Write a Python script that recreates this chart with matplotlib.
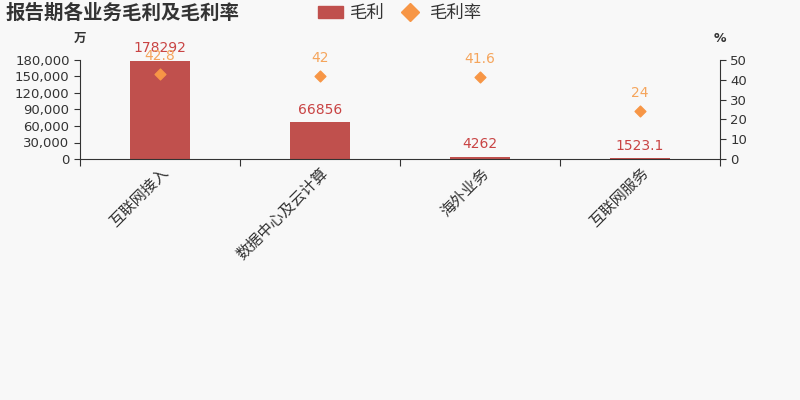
import matplotlib.pyplot as plt
from matplotlib.ticker import FuncFormatter
from matplotlib.lines import Line2D
from matplotlib.patches import Patch

plt.rcParams['font.family'] = ['Noto Sans CJK SC', 'DejaVu Sans']

categories = ['互联网接入', '数据中心及云计算', '海外业务', '互联网服务']
profit = [178292, 66856, 4262, 1523.1]
profit_labels = ['178292', '66856', '4262', '1523.1']
margin = [42.8, 42, 41.6, 24]
margin_labels = ['42.8', '42', '41.6', '24']

BAR = '#c0504d'
ORANGE = '#f79646'
TXT = '#333333'
NUM = ['DejaVu Sans']

fig = plt.figure(figsize=(8, 4), dpi=100)
fig.patch.set_facecolor('#f8f8f8')
ax = fig.add_axes([0.1, 0.6025, 0.8, 0.2475])
ax.set_facecolor('#f8f8f8')
x = list(range(len(categories)))
ax.bar(x, profit, width=0.375, color=BAR, zorder=2)
ax.set_xlim(-0.5, 3.5)
ax.set_ylim(0, 180000)
ax.set_yticks(range(0, 180001, 30000))
ax.yaxis.set_major_formatter(FuncFormatter(lambda v, p: f'{int(v):,}'))
ax.set_xticks([i - 0.5 for i in range(5)])
ax.set_xticklabels([])
ax.set_xticks(x, minor=True)
ax.set_xticklabels(categories, minor=True, rotation=45, ha='right',
                   rotation_mode='anchor', fontsize=11, color=TXT)
ax.tick_params(axis='x', which='minor', length=0, pad=4)
ax.tick_params(axis='x', which='major', length=5, color=TXT)
ax.tick_params(axis='y', labelsize=9.5, colors=TXT, length=4)
for lb in ax.get_yticklabels():
    lb.set_family(NUM)
for s in ['top', 'right']:
    ax.spines[s].set_visible(False)
for s in ['left', 'bottom']:
    ax.spines[s].set_color(TXT)

for i, (v, t) in enumerate(zip(profit, profit_labels)):
    ax.annotate(t, (i, v), xytext=(0, 4), textcoords='offset points',
                ha='center', va='bottom', fontsize=10, color='#c94444',
                family=NUM)

ax2 = ax.twinx()
ax2.set_ylim(0, 50)
ax2.set_yticks(range(0, 51, 10))
ax2.scatter(x, margin, marker='D', s=30, color=ORANGE, zorder=3)
ax2.tick_params(axis='y', labelsize=9.5, colors=TXT, length=4)
for lb in ax2.get_yticklabels():
    lb.set_family(NUM)
for s in ['top', 'left', 'bottom']:
    ax2.spines[s].set_visible(False)
ax2.spines['right'].set_color(TXT)
for i, (v, t) in enumerate(zip(margin, margin_labels)):
    ax2.annotate(t, (i, v), xytext=(0, 8), textcoords='offset points',
                 ha='center', va='bottom', fontsize=10, color='#f5a55c',
                 family=NUM)

fig.text(80 / 800, 1 - 38 / 400, '万', ha='center', va='center',
         fontsize=9, color=TXT, fontweight='bold')
fig.text(720 / 800, 1 - 38 / 400, '%', ha='center', va='center',
         fontsize=9, color=TXT, fontweight='bold', family=NUM)
fig.text(5 / 800, 1 - 13 / 400, '报告期各业务毛利及毛利率', ha='left',
         va='center', fontsize=14, fontweight='bold', color=TXT)

handles = [Patch(facecolor=BAR, edgecolor=BAR),
           Line2D([], [], marker='D', color=ORANGE, linestyle='None',
                  markersize=9)]
fig.legend(handles, ['毛利', '毛利率'], loc='center', ncol=2,
           bbox_to_anchor=(400 / 800, 1 - 13 / 400), frameon=False,
           fontsize=12.5, handlelength=1.4, handletextpad=0.4,
           columnspacing=0.8, labelcolor=TXT)

fig.savefig('out.png', dpi=100, facecolor=fig.get_facecolor())
